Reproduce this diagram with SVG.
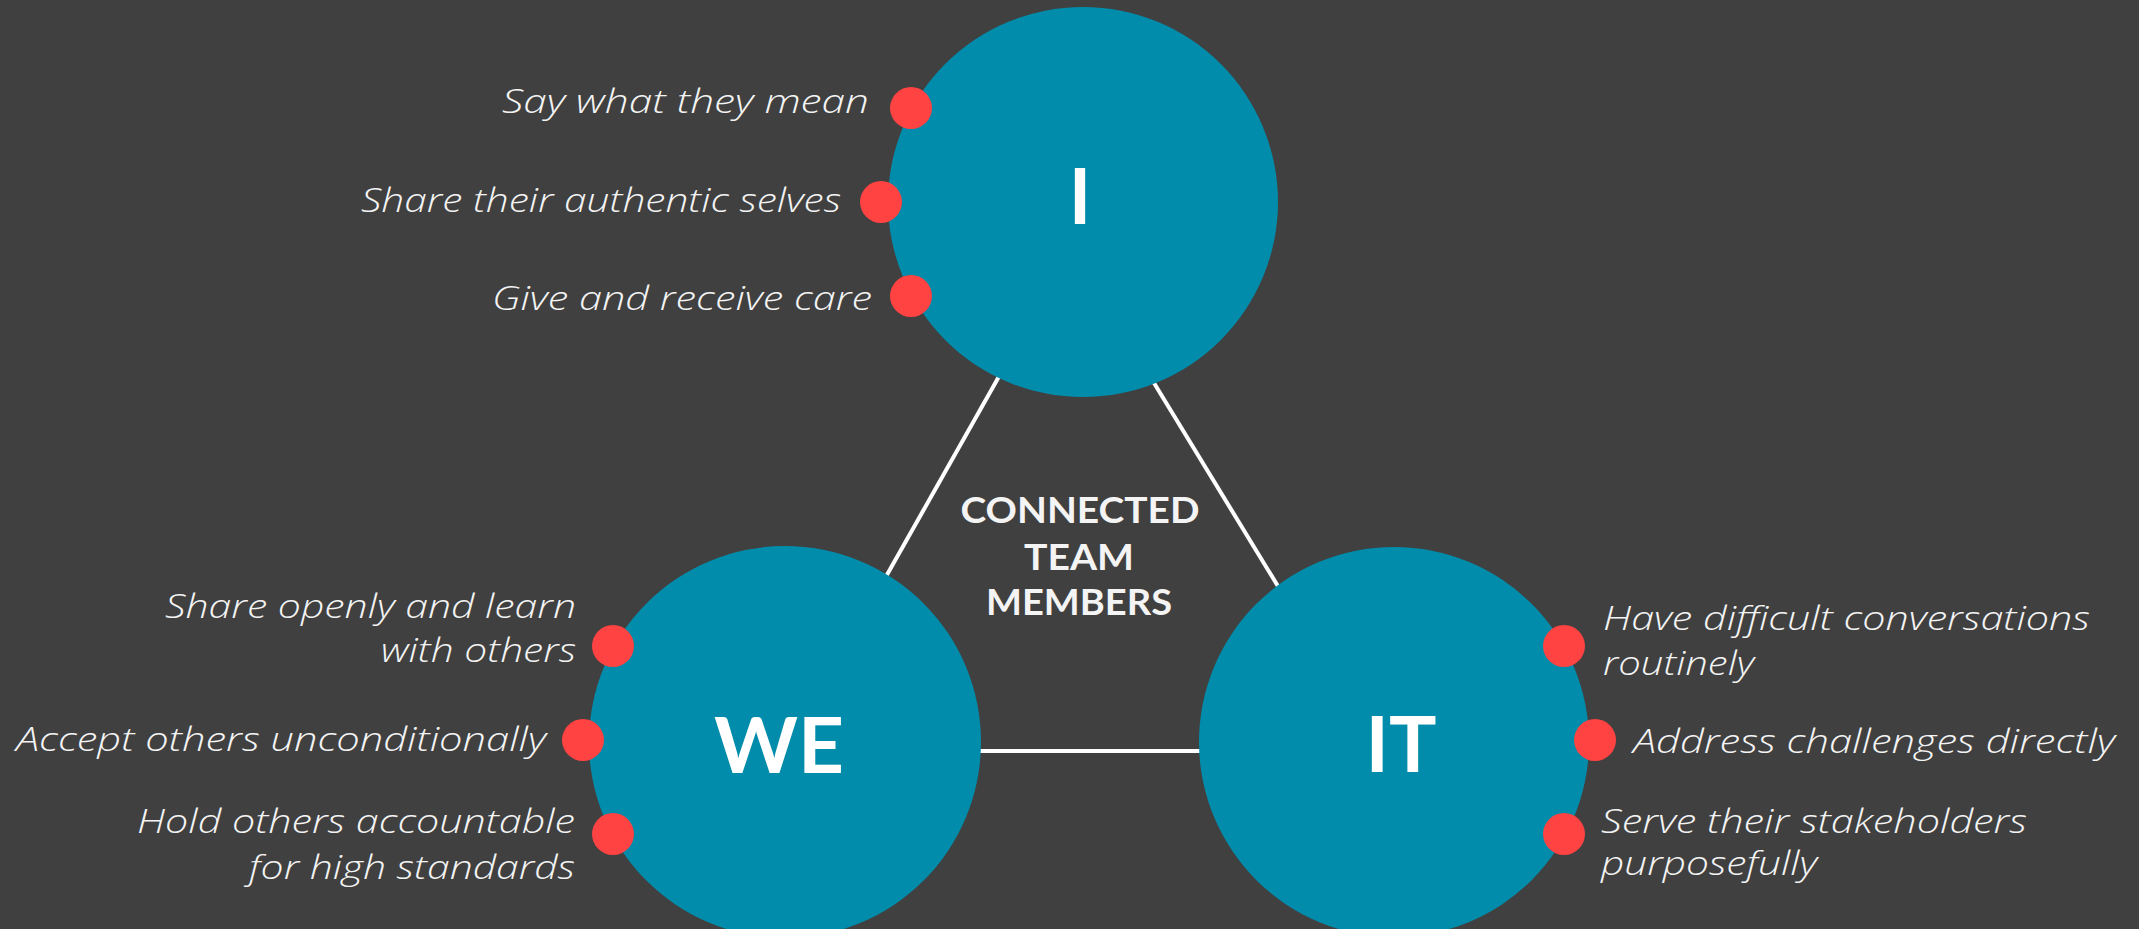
<svg xmlns="http://www.w3.org/2000/svg" width="2139" height="929" viewBox="0 0 2139 929">
  <style>
    .bg { fill: #404040; }
    .hub { fill: #008caa; }
    .dot { fill: #ff4242; }
    .link { stroke: #ffffff; stroke-width: 4; fill: none; }
    .item { fill: #f4f4f4; font-family: "Open Sans", "Lato", sans-serif; font-style: italic; font-weight: 300; font-size: 33px; }
    .end { text-anchor: end; }
    .hub-label { fill: #ffffff; font-family: "Lato", "Open Sans", sans-serif; font-weight: 700; font-size: 76px; text-anchor: middle; }
    .core { fill: #f4f4f4; font-family: "Lato", "Open Sans", sans-serif; font-weight: 700; font-size: 36px; text-anchor: middle; }
  </style>

  <rect class="bg" x="0" y="0" width="2139" height="929"/>

  <!-- connectors between the three circles -->
  <g id="connectors">
    <line class="link" x1="1010" y1="357" x2="875" y2="596"/>
    <line class="link" x1="1140" y1="360" x2="1290" y2="606"/>
    <line class="link" x1="960" y1="751" x2="1220" y2="751" stroke-width="5"/>
  </g>

  <!-- centre caption -->
  <g id="center-label">
    <text class="core" x="1080" y="523" textLength="239" lengthAdjust="spacingAndGlyphs">CONNECTED</text>
    <text class="core" x="1079" y="570" textLength="110" lengthAdjust="spacingAndGlyphs">TEAM</text>
    <text class="core" x="1079" y="615" textLength="186" lengthAdjust="spacingAndGlyphs">MEMBERS</text>
  </g>

  <!-- I -->
  <g id="node-i">
    <circle class="hub" cx="1083" cy="202" r="195"/>
    <text class="hub-label" x="1080" y="224">I</text>
    <circle class="dot" cx="911" cy="108" r="21"/>
    <circle class="dot" cx="881" cy="202" r="21"/>
    <circle class="dot" cx="911" cy="296" r="21"/>
    <text class="item end" x="869" y="113" textLength="367" lengthAdjust="spacingAndGlyphs">Say what they mean</text>
    <text class="item end" x="841" y="212" textLength="480" lengthAdjust="spacingAndGlyphs">Share their authentic selves</text>
    <text class="item end" x="872" y="310" textLength="380" lengthAdjust="spacingAndGlyphs">Give and receive care</text>
  </g>

  <!-- WE -->
  <g id="node-we">
    <circle class="hub" cx="785" cy="742" r="196"/>
    <text class="hub-label" x="779" y="773" textLength="130" lengthAdjust="spacingAndGlyphs">WE</text>
    <circle class="dot" cx="613" cy="646" r="21"/>
    <circle class="dot" cx="583" cy="740" r="21"/>
    <circle class="dot" cx="613" cy="834" r="21"/>
    <text class="item end" x="576" y="618" textLength="411" lengthAdjust="spacingAndGlyphs">Share openly and learn</text>
    <text class="item end" x="576" y="662" textLength="195" lengthAdjust="spacingAndGlyphs">with others</text>
    <text class="item end" x="546" y="751" textLength="530" lengthAdjust="spacingAndGlyphs">Accept others unconditionally</text>
    <text class="item end" x="575" y="833" textLength="438" lengthAdjust="spacingAndGlyphs">Hold others accountable</text>
    <text class="item end" x="575" y="879" textLength="326" lengthAdjust="spacingAndGlyphs">for high standards</text>
  </g>

  <!-- IT -->
  <g id="node-it">
    <circle class="hub" cx="1394" cy="742" r="195"/>
    <text class="hub-label" x="1401" y="772" textLength="71" lengthAdjust="spacingAndGlyphs">IT</text>
    <circle class="dot" cx="1564" cy="646" r="21"/>
    <circle class="dot" cx="1595" cy="740" r="21"/>
    <circle class="dot" cx="1564" cy="834" r="21"/>
    <text class="item" x="1603" y="630" textLength="487" lengthAdjust="spacingAndGlyphs">Have difficult conversations</text>
    <text class="item" x="1603" y="675" textLength="151" lengthAdjust="spacingAndGlyphs">routinely</text>
    <text class="item" x="1633" y="753" textLength="482" lengthAdjust="spacingAndGlyphs">Address challenges directly</text>
    <text class="item" x="1601" y="833" textLength="426" lengthAdjust="spacingAndGlyphs">Serve their stakeholders</text>
    <text class="item" x="1601" y="875" textLength="216" lengthAdjust="spacingAndGlyphs">purposefully</text>
  </g>
</svg>
